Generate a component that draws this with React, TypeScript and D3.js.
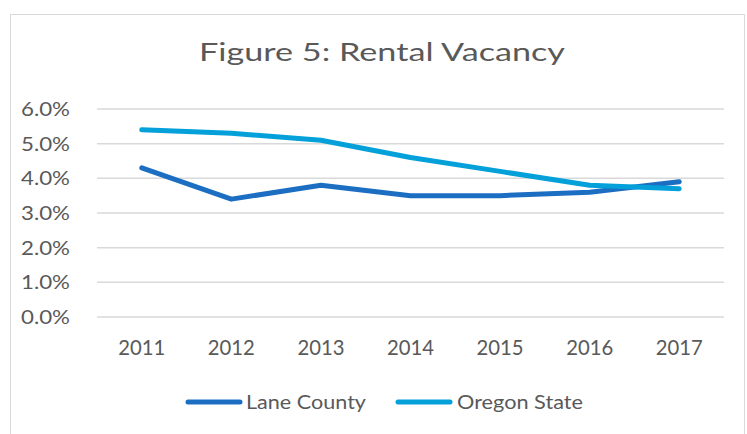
import React from "react";
import * as d3 from "d3";

const years = ["2011", "2012", "2013", "2014", "2015", "2016", "2017"];
const laneCounty = [4.3, 3.4, 3.8, 3.5, 3.5, 3.6, 3.9];
const oregonState = [5.4, 5.3, 5.1, 4.6, 4.2, 3.8, 3.7];
const yTicks = [0, 1, 2, 3, 4, 5, 6];
const seriesNames = ["Lane County", "Oregon State"];

const W = 747, H = 434;
const FONT = "Lato, 'Open Sans', 'Liberation Sans', sans-serif";
const TXT = "#595959";

export default function App() {
  const x = d3.scaleBand<string>().domain(years).range([97, 724]);
  const y = d3.scaleLinear().domain([0, 6]).range([317, 109]);
  const cx = (yr: string) => (x(yr) as number) + x.bandwidth() / 2;
  const line = d3
    .line<number>()
    .x((_, i) => cx(years[i]))
    .y((d) => y(d));
  const series = [
    { name: seriesNames[0], values: laneCounty, color: "#1C6EC3" },
    { name: seriesNames[1], values: oregonState, color: "#04A0D9" },
  ];
  const legend = [
    { x1: 188, x2: 240, tx: 246, len: 120 },
    { x1: 398, x2: 450, tx: 457, len: 126 },
  ];
  return (
    <svg width={W} height={H} style={{ position: "absolute", left: 0, top: 0 }}>
      <rect x={0} y={0} width={W} height={H} fill="#fff" />
      <rect x={10.5} y={14.5} width={734} height={430} fill="#fff" stroke="#d9d9d9" strokeWidth={1} />
      <text x={199} y={61} fontFamily={FONT} fontSize={25} fill={TXT} textLength={366} lengthAdjust="spacingAndGlyphs">
        Figure 5: Rental Vacancy
      </text>
      {yTicks.map((t) => (
        <g key={t}>
          <line x1={97} x2={724} y1={y(t)} y2={y(t)} stroke="#d9d9d9" strokeWidth={1.5} />
          <text x={70} y={y(t) + 7} textAnchor="end" fontFamily={FONT} fontSize={19.5} fill={TXT} textLength={49} lengthAdjust="spacingAndGlyphs">
            {d3.format(".1f")(t) + "%"}
          </text>
        </g>
      ))}
      {years.map((yr) => (
        <text key={yr} x={cx(yr)} y={355} textAnchor="middle" fontFamily={FONT} fontSize={20.5} fill={TXT} textLength={47} lengthAdjust="spacingAndGlyphs">
          {yr}
        </text>
      ))}
      {series.map((s) => (
        <path key={s.name} d={line(s.values) || ""} fill="none" stroke={s.color} strokeWidth={5} strokeLinecap="round" strokeLinejoin="round" />
      ))}
      {series.map((s, i) => (
        <g key={s.name}>
          <line x1={legend[i].x1} x2={legend[i].x2} y1={402} y2={402} stroke={s.color} strokeWidth={5} strokeLinecap="round" />
          <text x={legend[i].tx} y={409} fontFamily={FONT} fontSize={19.5} fill={TXT} textLength={legend[i].len} lengthAdjust="spacingAndGlyphs">
            {s.name}
          </text>
        </g>
      ))}
    </svg>
  );
}
